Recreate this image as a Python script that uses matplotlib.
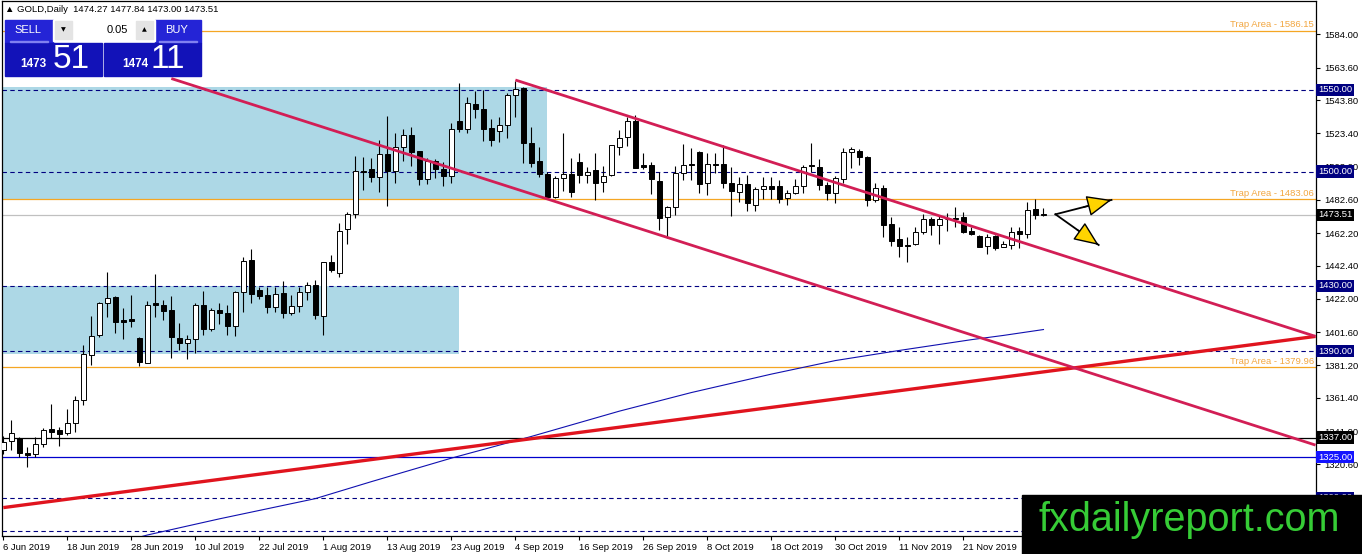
import numpy as np
import pandas as pd
import matplotlib
matplotlib.use('Agg')
import matplotlib.pyplot as plt
from matplotlib.patches import Rectangle, FancyArrowPatch
from matplotlib.transforms import blended_transform_factory

plt.rcParams['font.family'] = ['Liberation Sans', 'DejaVu Sans']

# GOLD daily candles, 6 Jun 2019 onwards (one per business day)
opens = [1329.4, 1334.9, 1337.0, 1327.8, 1326.7, 1332.9, 1342.1, 1341.5, 1339.6, 1345.8,
         1359.8, 1387.4, 1400.1, 1419.3, 1423.2, 1409.0, 1409.7, 1397.8, 1382.9, 1419.7,
         1418.3, 1415.2, 1397.8, 1394.8, 1397.2, 1418.1, 1403.4, 1415.2, 1413.2, 1405.6,
         1426.0, 1445.8, 1427.5, 1424.4, 1416.8, 1425.8, 1413.6, 1417.8, 1426.2, 1430.3,
         1411.7, 1444.4, 1438.1, 1464.6, 1474.0, 1500.4, 1501.4, 1496.5, 1510.6, 1500.6,
         1515.3, 1522.2, 1512.4, 1495.3, 1506.7, 1501.4, 1497.5, 1531.0, 1526.3, 1541.4,
         1538.1, 1526.5, 1525.1, 1528.3, 1546.7, 1551.2, 1517.7, 1506.7, 1498.5, 1484.6,
         1495.9, 1498.3, 1505.9, 1497.9, 1500.9, 1493.4, 1498.1, 1514.9, 1521.4, 1531.0,
         1503.8, 1503.8, 1494.2, 1472.0, 1478.5, 1498.9, 1504.9, 1512.0, 1492.8, 1504.9,
         1504.9, 1493.2, 1487.3, 1492.2, 1479.5, 1489.1, 1491.2, 1491.2, 1483.6, 1486.7,
         1491.2, 1504.2, 1502.6, 1491.6, 1486.7, 1495.3, 1511.8, 1512.8, 1508.7, 1482.6,
         1489.7, 1467.9, 1458.5, 1455.2, 1455.6, 1462.8, 1470.8, 1467.1, 1471.0, 1471.4,
         1472.0, 1463.6, 1460.5, 1454.4, 1460.5, 1454.0, 1455.0, 1463.8, 1461.8, 1476.9,
         1474.27]
highs = [1338.0, 1347.8, 1337.6, 1331.5, 1337.6, 1343.1, 1357.6, 1343.7, 1354.3, 1362.5,
         1393.5, 1411.5, 1420.3, 1438.5, 1423.8, 1416.2, 1424.4, 1398.4, 1420.7, 1437.2,
         1421.3, 1423.8, 1407.4, 1399.9, 1419.3, 1427.0, 1416.2, 1419.7, 1418.3, 1427.0,
         1447.9, 1452.4, 1429.5, 1429.5, 1429.1, 1433.2, 1424.4, 1429.5, 1432.6, 1433.6,
         1444.8, 1448.9, 1468.7, 1475.4, 1509.6, 1509.2, 1508.1, 1519.4, 1534.1, 1523.4,
         1525.9, 1527.5, 1512.6, 1508.1, 1507.7, 1506.1, 1530.0, 1554.5, 1545.5, 1549.6,
         1550.0, 1532.0, 1533.6, 1547.9, 1555.7, 1551.6, 1527.5, 1514.9, 1499.9, 1497.3,
         1523.9, 1508.1, 1511.2, 1502.6, 1511.2, 1503.4, 1516.3, 1525.5, 1533.6, 1534.7,
         1511.2, 1506.1, 1499.9, 1478.9, 1503.4, 1517.0, 1514.3, 1512.5, 1511.2, 1511.2,
         1516.3, 1502.6, 1496.5, 1497.9, 1490.8, 1496.5, 1496.5, 1494.9, 1488.7, 1495.3,
         1504.0, 1517.7, 1507.5, 1493.8, 1497.3, 1514.3, 1515.3, 1513.6, 1509.6, 1493.2,
         1491.8, 1472.0, 1465.8, 1459.7, 1465.8, 1474.0, 1472.4, 1473.4, 1474.4, 1478.1,
         1475.0, 1465.8, 1461.2, 1461.8, 1460.9, 1457.7, 1465.8, 1466.3, 1481.6, 1483.0,
         1477.84]
lows = [1327.0, 1329.4, 1325.3, 1319.2, 1325.3, 1331.5, 1336.6, 1331.9, 1338.4, 1340.4,
        1357.0, 1381.5, 1398.9, 1411.1, 1401.3, 1397.4, 1405.0, 1381.1, 1382.5, 1411.1,
        1409.1, 1386.0, 1390.7, 1385.0, 1389.0, 1399.9, 1402.3, 1406.6, 1399.9, 1399.3,
        1414.2, 1419.3, 1421.7, 1413.6, 1414.2, 1410.5, 1412.1, 1414.2, 1421.3, 1409.5,
        1399.9, 1438.7, 1435.6, 1455.6, 1471.4, 1488.7, 1493.8, 1487.3, 1479.1, 1493.2,
        1506.7, 1503.4, 1491.8, 1492.2, 1495.9, 1491.4, 1492.8, 1524.5, 1523.9, 1532.6,
        1518.9, 1515.7, 1518.3, 1520.8, 1533.2, 1505.5, 1503.0, 1496.9, 1483.6, 1483.6,
        1488.3, 1484.6, 1493.2, 1492.8, 1482.6, 1487.7, 1497.3, 1510.2, 1515.7, 1502.0,
        1501.4, 1486.3, 1464.2, 1459.1, 1473.4, 1494.8, 1494.9, 1487.1, 1485.7, 1498.9,
        1490.2, 1473.0, 1481.6, 1476.1, 1476.1, 1483.0, 1483.0, 1480.6, 1479.5, 1486.3,
        1487.1, 1500.0, 1488.7, 1482.6, 1480.6, 1493.2, 1502.4, 1504.0, 1478.9, 1481.6,
        1460.1, 1454.4, 1447.5, 1444.8, 1455.0, 1461.8, 1461.2, 1455.6, 1463.8, 1466.3,
        1462.2, 1461.0, 1453.6, 1449.5, 1452.0, 1453.6, 1452.4, 1453.0, 1459.1, 1470.8,
        1473.00]
closes = [1334.5, 1340.0, 1327.4, 1326.1, 1332.9, 1341.5, 1340.6, 1339.0, 1345.8, 1359.8,
          1388.0, 1399.1, 1419.7, 1422.8, 1408.0, 1408.0, 1408.7, 1383.5, 1418.1, 1418.1,
          1414.8, 1398.9, 1394.8, 1397.2, 1418.1, 1403.4, 1415.2, 1413.2, 1405.6, 1426.0,
          1445.0, 1424.8, 1424.0, 1416.8, 1425.0, 1413.6, 1417.6, 1426.4, 1430.3, 1412.1,
          1444.4, 1439.7, 1463.6, 1474.0, 1500.2, 1500.0, 1496.5, 1510.6, 1500.6, 1515.3,
          1522.2, 1512.2, 1495.3, 1506.7, 1501.4, 1497.3, 1525.9, 1526.3, 1541.8, 1538.1,
          1526.3, 1519.4, 1528.3, 1546.7, 1550.8, 1517.7, 1505.5, 1498.5, 1484.6, 1495.9,
          1498.3, 1487.7, 1497.7, 1499.9, 1493.2, 1497.3, 1516.1, 1520.8, 1531.0, 1502.4,
          1503.0, 1495.7, 1471.8, 1478.1, 1498.9, 1503.8, 1503.8, 1492.2, 1504.7, 1504.1,
          1492.8, 1488.3, 1492.2, 1480.6, 1489.1, 1491.2, 1489.3, 1483.4, 1487.1, 1491.2,
          1503.0, 1503.2, 1491.6, 1487.1, 1495.9, 1511.8, 1513.6, 1508.7, 1482.6, 1489.7,
          1467.5, 1457.7, 1454.6, 1454.6, 1463.2, 1470.8, 1467.1, 1470.8, 1470.8, 1470.8,
          1463.2, 1461.6, 1454.0, 1460.1, 1453.4, 1455.6, 1463.2, 1461.8, 1476.5, 1473.4,
          1473.51]
dates = pd.bdate_range('2019-06-06', periods=len(closes))

# moving average (sampled at bar index)
ma_idx = [14, 18, 27, 39, 46, 56, 66, 77, 86, 96, 104, 112, 121, 125, 130]
ma_val = [1272.0, 1277.3, 1287.2, 1299.6, 1310.0, 1324.4, 1337.7, 1353.2, 1364.6,
          1375.9, 1384.2, 1390.4, 1397.0, 1399.6, 1403.2]

# trend lines (bar index, price)
rise_x, rise_y = [0, 164], [1294.1, 1399.0]
chan_up_x, chan_up_y = [64, 164], [1556.1, 1399.0]
chan_lo_x, chan_lo_y = [21, 164], [1557.0, 1332.4]

# zones (start bar, end bar, low, high)
zones = [(-1, 67.9, 1483.3, 1551.6), (-1, 57.0, 1388.0, 1430.0)]

trap_levels = [1586.15, 1483.06, 1379.96]
dash_levels = [1550.0, 1500.0, 1430.0, 1390.0, 1300.0, 1280.0]
black_level = 1337.0
blue_level = 1325.0
bid = 1473.51

yticks = [1584.0, 1563.6, 1543.8, 1523.4, 1503.0, 1482.6, 1462.2, 1442.4, 1422.0,
          1401.6, 1381.2, 1361.4, 1341.0, 1320.6, 1300.2, 1279.8]

arrow_from = (131.5, 1473.8)
arrow_tips = [(138.5, 1482.6), (136.9, 1455.0)]

W, H = 1362, 554
fig = plt.figure(figsize=(W / 100, H / 100), dpi=100)
ax = fig.add_axes([2 / W, 18 / H, 1314 / W, 535 / H])
ax.set_xlim(-0.16, 164.06)
ax.set_ylim(1276.7, 1604.5)

for x0, x1, lo, hi in zones:
    ax.add_patch(Rectangle((x0, lo), x1 - x0, hi - lo, color='#ADD8E6', lw=0, zorder=0))

for lv in dash_levels:
    ax.axhline(lv, color='#000080', lw=0.8, ls=(0, (4, 3)), zorder=1)
for lv in trap_levels:
    ax.axhline(lv, color='#F5A623', lw=0.9, zorder=1)
    ax.text(163.8, lv + 0.9, f'Trap Area - {lv:.2f}', ha='right', va='bottom',
            color='#F2A640', fontsize=6.8, zorder=5)
ax.axhline(bid, color='#C0C0C0', lw=0.9, zorder=1)
ax.axhline(black_level, color='black', lw=0.9, zorder=1)
ax.axhline(blue_level, color='#0000CD', lw=0.9, zorder=1)

idx = np.arange(len(closes))
o, h, l, c = map(np.array, (opens, highs, lows, closes))
ax.vlines(idx, l, h, color='black', lw=0.8, zorder=2)
body_col = np.where(c >= o, 'white', 'black')
ax.bar(idx, c - o, bottom=o, width=0.58, color=body_col, edgecolor='black',
       linewidth=0.7, zorder=3)

ax.plot(ma_idx, ma_val, color='#1010B0', lw=0.8, zorder=4)
ax.plot(rise_x, rise_y, color='#E0141E', lw=2.4, zorder=4, solid_capstyle='butt')
ax.plot(chan_up_x, chan_up_y, color='#D21E55', lw=2.0, zorder=4, solid_capstyle='butt')
ax.plot(chan_lo_x, chan_lo_y, color='#D21E55', lw=2.0, zorder=4, solid_capstyle='butt')

# arrows: black shaft, yellow head
for tx, ty in arrow_tips:
    ax.plot([arrow_from[0], tx], [arrow_from[1], ty], color='black', lw=1.3, zorder=6)
    mid = (arrow_from[0] + 0.5 * (tx - arrow_from[0]), arrow_from[1] + 0.5 * (ty - arrow_from[1]))
    ax.add_patch(FancyArrowPatch(mid, (tx, ty), arrowstyle='-|>,head_length=1.3,head_width=0.55',
                                 mutation_scale=12, facecolor='#FFD400', edgecolor='black',
                                 lw=1.0, shrinkA=0, shrinkB=0, zorder=7))

# axes styling
for s in ax.spines.values():
    s.set_color('black')
    s.set_linewidth(0.9)
ax.yaxis.tick_right()
ax.set_yticks(yticks)
ax.set_yticklabels([f'{v:.2f}' for v in yticks])
ax.tick_params(axis='y', direction='out', length=3, pad=3, labelsize=6.8, width=0.8)
xt = list(range(0, len(closes), 8))
ax.set_xticks(xt)
ax.set_xticklabels([f'{dates[i].day} {dates[i]:%b %Y}' for i in xt])
ax.tick_params(axis='x', direction='out', length=3, pad=2, labelsize=6.8, width=0.8)
for lbl in ax.get_xticklabels():
    lbl.set_ha('left')

# price boxes on the right scale
tr = blended_transform_factory(ax.transAxes, ax.transData)
boxes = [(1550.0, '#000080'), (1500.0, '#000080'), (bid, 'black'), (1430.0, '#000080'),
         (1390.0, '#000080'), (black_level, 'black'), (blue_level, '#1414FF'), (1300.0, '#000080')]
for lv, col in boxes:
    ax.text(1.0016, lv, f'{lv:.2f}', transform=tr, ha='left', va='center', color='white',
            fontsize=6.8, clip_on=False, zorder=10,
            bbox=dict(boxstyle='square,pad=0.18', fc=col, ec='none'))


def fx(x):
    return x / W


def fy(y):
    return 1 - y / H


def box(x0, y0, x1, y1, col, z=20):
    fig.patches.append(Rectangle((fx(x0), fy(y1)), fx(x1 - x0), (y1 - y0) / H,
                                 transform=fig.transFigure, color=col, zorder=z))


# header and trade panel
fig.text(fx(5), fy(10), '\u25b2 GOLD,Daily  1474.27 1477.84 1473.00 1473.51',
         fontsize=6.8, va='center', ha='left', family=['Liberation Sans', 'DejaVu Sans'])
box(5, 20, 53, 43, '#2424D6')
box(155, 20, 201, 43, '#2424D6')
box(53, 20, 155, 41, 'white')
box(55, 21, 72, 39, '#E4E4E4', 21)
box(136, 21, 153, 39, '#E4E4E4', 21)
box(5, 43, 102, 76, '#1212B8')
box(104, 43, 201, 76, '#1212B8')
box(10, 41, 48, 42, '#8080F0', 21)
box(159, 41, 197, 42, '#8080F0', 21)
fig.text(fx(28), fy(30), 'SELL', color='white', fontsize=8, ha='center', va='center', zorder=25)
fig.text(fx(177), fy(30), 'BUY', color='white', fontsize=8, ha='center', va='center', zorder=25)
fig.text(fx(63), fy(30), '\u25bc', fontsize=4.5, ha='center', va='center', zorder=25,
         family=['DejaVu Sans'])
fig.text(fx(144), fy(30), '\u25b2', fontsize=4.5, ha='center', va='center', zorder=25,
         family=['DejaVu Sans'])
fig.text(fx(128), fy(30), '0.05', fontsize=8, ha='right', va='center', zorder=25)
fig.text(fx(33), fy(64), '1473', color='white', fontsize=8.5, weight='bold',
         ha='center', va='center', zorder=25)
fig.text(fx(71), fy(59), '51', color='white', fontsize=24, ha='center', va='center', zorder=25)
fig.text(fx(135), fy(64), '1474', color='white', fontsize=8.5, weight='bold',
         ha='center', va='center', zorder=25)
fig.text(fx(168), fy(59), '11', color='white', fontsize=24, ha='center', va='center', zorder=25)

# watermark
box(1022, 495, 1362, 554, 'black')
fig.text(fx(1189), fy(520), 'fxdailyreport.com', color='#36CC36', fontsize=28.5,
         ha='center', va='center', zorder=25, family=['Liberation Sans'])

fig.savefig('out.png', dpi=100)
